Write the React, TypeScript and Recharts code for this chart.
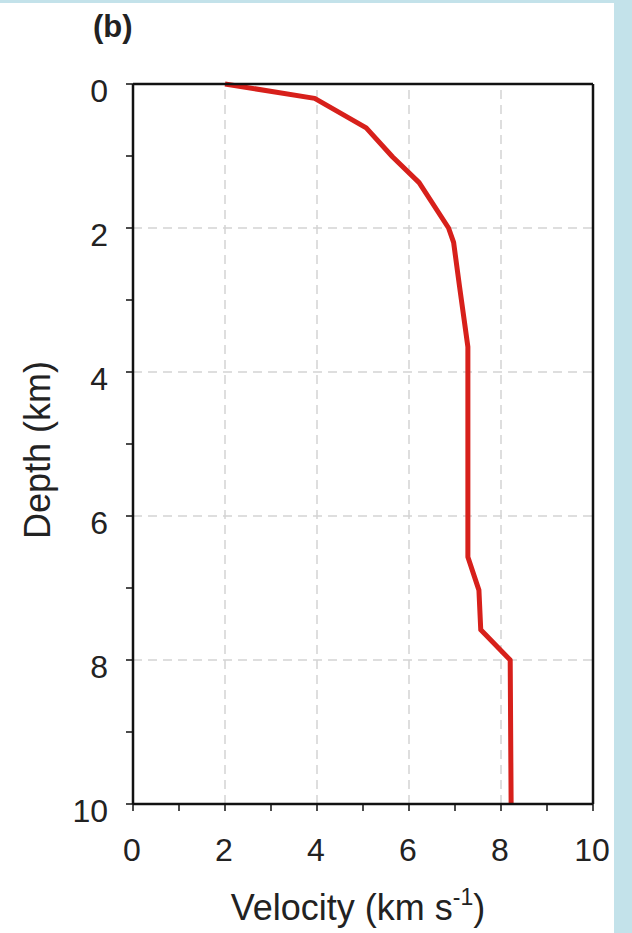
import React from 'react';
import { LineChart, Line, XAxis, YAxis, ReferenceLine } from 'recharts';

// velocity profile (km/s vs km depth)
const velocity = [2.0, 3.95, 5.07, 5.64, 6.22, 6.86, 6.97, 7.1, 7.2, 7.28, 7.28, 7.52, 7.56, 8.2, 8.22];
const depth = [0, 0.2, 0.61, 1.01, 1.37, 2.0, 2.2, 2.82, 3.28, 3.65, 6.57, 7.03, 7.58, 8.0, 10];

const axisTicks = [0, 1, 2, 3, 4, 5, 6, 7, 8, 9, 10];
const gridValues = [2, 4, 6, 8];

const data = velocity.map((v, i) => ({ velocity: v, depth: depth[i] }));

const FONT = '"Liberation Sans", Arial, Helvetica, sans-serif';
const RED = '#d7201b';
const GRID = '#d4d4d4';

const XTick = (props: any) => {
  const { x, y, payload } = props;
  if (payload.value % 2 !== 0) return null;
  return (
    <text x={x - 1} y={y + 50} textAnchor="middle" fontSize={32} fontFamily={FONT} fill="#222">
      {payload.value}
    </text>
  );
};

const YTick = (props: any) => {
  const { x, y, payload } = props;
  if (payload.value % 2 !== 0) return null;
  return (
    <text x={x - 18} y={y + 18} textAnchor="end" fontSize={32} fontFamily={FONT} fill="#222">
      {payload.value}
    </text>
  );
};

const DepthLabel = () => (
  <text x={50} y={450} transform="rotate(-90 50 450)" textAnchor="middle" fontSize={36} fontFamily={FONT} fill="#222">
    Depth (km)
  </text>
);

const VelocityLabel = () => (
  <text x={358} y={920} textAnchor="middle" fontSize={36} fontFamily={FONT} fill="#222">
    Velocity (km s
    <tspan fontSize={23} dy={-15}>-1</tspan>
    <tspan dy={15}>)</tspan>
  </text>
);

export default function App() {
  return (
    <div style={{ position: 'absolute', left: 0, top: 0, width: 632, height: 933, background: '#fff', overflow: 'hidden' }}>
      <div style={{ position: 'absolute', left: 0, top: 0, width: 632, height: 3, background: '#c3e2ea' }} />
      <div style={{ position: 'absolute', left: 614, top: 0, width: 18, height: 933, background: '#c3e2ea' }} />
      <div style={{ position: 'absolute', left: 93, top: 11, fontFamily: FONT, fontWeight: 'bold', fontSize: 31, lineHeight: '31px', color: '#222' }}>
        (b)
      </div>
      <div style={{ position: 'absolute', left: 0, top: 0 }}>
        <LineChart
          width={614}
          height={933}
          layout="vertical"
          data={data}
          margin={{ top: 74, right: 11, bottom: 69, left: 83 }}
        >
          <XAxis
            xAxisId="b"
            type="number"
            dataKey="velocity"
            domain={[0, 10]}
            ticks={axisTicks}
            interval={0}
            height={60}
            tickSize={7}
            tickMargin={0}
            tick={<XTick />}
            axisLine={{ stroke: '#111', strokeWidth: 2.5 }}
            tickLine={{ stroke: '#111', strokeWidth: 1.5 }}
            label={<VelocityLabel />}
          />
          <XAxis
            xAxisId="t"
            orientation="top"
            type="number"
            domain={[0, 10]}
            ticks={axisTicks}
            interval={0}
            height={10}
            tickSize={6}
            tick={false}
            axisLine={{ stroke: '#111', strokeWidth: 2.5 }}
            tickLine={{ stroke: '#111', strokeWidth: 1.5 }}
          />
          <YAxis
            yAxisId="l"
            type="number"
            dataKey="depth"
            domain={[0, 10]}
            ticks={axisTicks}
            interval={0}
            width={50}
            tickSize={7}
            tickMargin={0}
            tick={<YTick />}
            axisLine={{ stroke: '#111', strokeWidth: 2.5 }}
            tickLine={{ stroke: '#111', strokeWidth: 1.5 }}
            label={<DepthLabel />}
          />
          <YAxis
            yAxisId="r"
            orientation="right"
            type="number"
            dataKey="depth"
            domain={[0, 10]}
            ticks={axisTicks}
            interval={0}
            width={10}
            tickSize={6}
            tick={false}
            axisLine={{ stroke: '#111', strokeWidth: 2.5 }}
            tickLine={{ stroke: '#111', strokeWidth: 1.5 }}
          />
          {gridValues.map((g) => (
            <ReferenceLine key={'x' + g} x={g} xAxisId="b" yAxisId="l" stroke={GRID} strokeWidth={1.5} strokeDasharray="9 6" />
          ))}
          {gridValues.map((g) => (
            <ReferenceLine key={'y' + g} y={g} xAxisId="b" yAxisId="l" stroke={GRID} strokeWidth={1.5} strokeDasharray="9 6" />
          ))}
          <Line
            xAxisId="b"
            yAxisId="l"
            type="linear"
            dataKey="velocity"
            stroke={RED}
            strokeWidth={5}
            strokeLinejoin="round"
            dot={false}
            isAnimationActive={false}
          />
        </LineChart>
      </div>
    </div>
  );
}
